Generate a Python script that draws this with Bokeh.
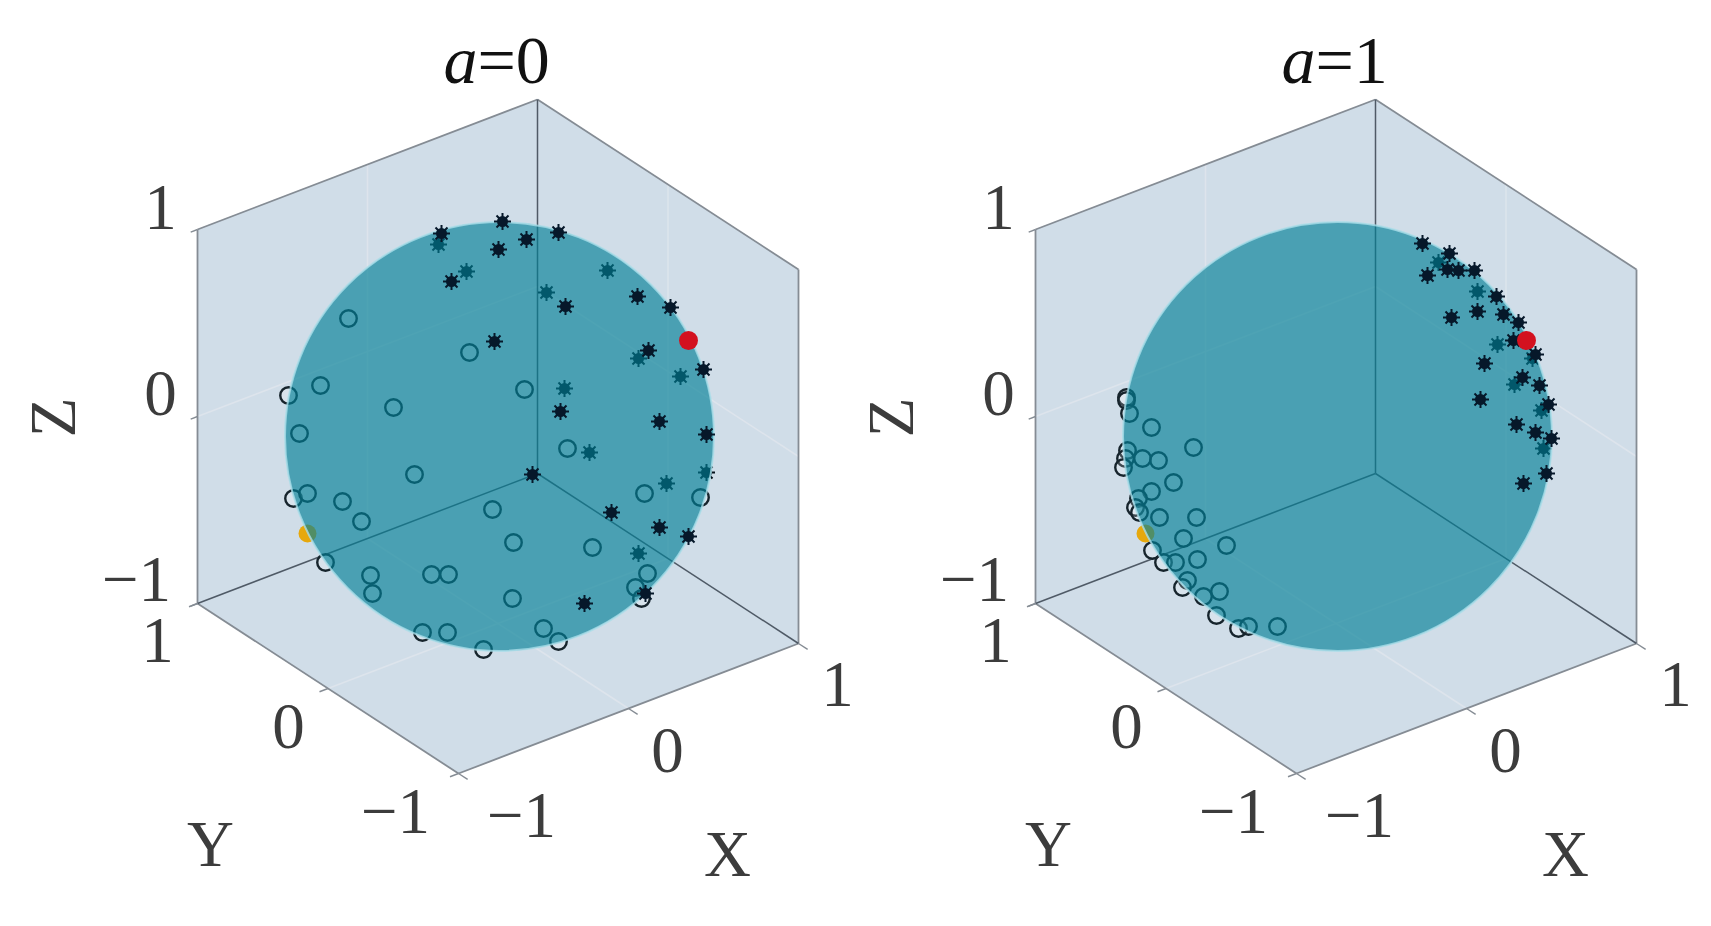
import math
from bokeh.plotting import figure
from bokeh.embed import file_html
from bokeh.resources import INLINE
from bokeh.core.properties import value

# Chart values. The sphere has radius 214.5 in these
# view-plane units and sits at the origin of each panel.
panel_titles = ["0", "1"]
tick_values = [-1, 0, 1]
z_tick_labels = ["\u22121", "0", "1"]
y_tick_labels = ["\u22121", "0", "1"]
x_tick_labels = ["\u22121", "0", "1"]

a0_circle_u = [-151, -179, -211, -106, -200, -30, 25, 68, -85, -206, -192, -157, -138, -174, -129, -127,
               -68, -77, -7, 14, 93, 145, 201, -51, 13, 148, 136, 142, 44, 59, -16, -52]
a0_circle_v = [118, 51, 41, 29, 3, 84, 47, -12, -38, -62, -57, -65, -85, -126, -139, -157,
               -138, -196, -73, -106, -111, -57, -61, -138, -162, -137, -151, -162, -192, -205, -213, -196]
a0_front_u = [-58, 3, 27, 59, -1, -48, 138, 171, 66, -5, 149, 204, 61, 160, 207, 33, 112, 160, 189, 146, 85]
a0_front_v = [203, 215, 197, 204, 187, 155, 140, 129, 130, 95, 86, 67, 25, 15, 2, -38, -76, -91, -100, -157, -167]
a0_back_u = [-61, -33, 108, 47, 139, 181, 65, 90, 207, 167, 139]
a0_back_v = [192, 165, 166, 144, 78, 60, 48, -16, -36, -47, -117]

a1_circle_u = [-211, -211, -208, -186, -144, -210, -212, -214, -195, -179, -164, -186, -199, -202, -198, -178,
               -141, -154, -111, -185, -174, -162, -140, -150, -155, -134, -118, -121, -99, -89, -60]
a1_circle_v = [39, 36, 23, 9, -11, -14, -22, -31, -22, -24, -46, -55, -62, -71, -76, -81,
               -81, -102, -109, -114, -126, -126, -123, -144, -151, -160, -155, -179, -192, -190, -190]
a1_front_u = [85, 112, 110, 121, 137, 90, 159, 140, 166, 114, 181, 176, 198, 147, 185, 202, 211, 143, 179, 198, 214, 209, 186]
a1_front_v = [193, 183, 167, 166, 166, 161, 140, 125, 122, 119, 114, 96, 82, 73, 59, 51, 32, 37, 12, 4, -2, -37, -47]
a1_back_u = [101, 140, 160, 177, 195, 204, 206]
a1_back_v = [174, 145, 92, 52, 78, 26, -12]

red_u, red_v = [189], [96]
yellow_u, yellow_v = [-192], [-97]

# Projection of the 3D box onto the view plane
ORIGIN = (-1.5, 0.0)
X_AXIS = (170.0, 65.0)
Y_AXIS = (-130.5, 85.0)
Z_AXIS = (0.0, 187.0)
PANEL_STEP = 838

PANE = "#d0dde8"
GRID = "#dde4ec"
EDGE = "#858c94"
INNER = "#4f5a66"
SPHERE = "#027f96"
SERIF = value("Liberation Serif")
TEXT = "#3c3c3c"
BASELINE_SHIFT = 0.37

p = figure(width=1703, height=910, x_range=(-499, 1204), y_range=(-474, 436),
           output_backend="svg", toolbar_location=None, min_border=0, outline_line_color=None,
           background_fill_color="white", border_fill_color="white")
p.axis.visible = False
p.grid.visible = False


def proj(x, y, z):
    return (ORIGIN[0] + x * X_AXIS[0] + y * Y_AXIS[0] + z * Z_AXIS[0],
            ORIGIN[1] + x * X_AXIS[1] + y * Y_AXIS[1] + z * Z_AXIS[1])


def shifted(us, dx):
    return [u + dx for u in us]


def seg(dx, a, b, color, width):
    pa, pb = proj(*a), proj(*b)
    p.line([pa[0] + dx, pb[0] + dx], [pa[1], pb[1]], line_color=color, line_width=width)


def wall(dx, corners):
    pts = [proj(*c) for c in corners]
    p.patch([q[0] + dx for q in pts], [q[1] for q in pts], fill_color=PANE, line_color=PANE, line_width=0.5)


def label(s, u, v, size=65, color=TEXT, align="center", style="normal"):
    p.text([u], [v + BASELINE_SHIFT * size], text=[s], text_font=SERIF, text_font_size=f"{size}px",
           text_color=color, text_align=align, text_baseline="alphabetic", text_font_style=style)


def stars(us, vs, color):
    p.scatter(us, vs, marker="asterisk", size=17, line_color=color, line_width=2)
    p.scatter(us, vs, marker="circle", size=11, fill_color=color, line_color=color, line_width=0)


def panel(dx, title, circle_u, circle_v, front_u, front_v, back_u, back_v):
    # panes
    wall(dx, [(-1, 1, -1), (1, 1, -1), (1, 1, 1), (-1, 1, 1)])
    wall(dx, [(1, 1, -1), (1, -1, -1), (1, -1, 1), (1, 1, 1)])
    wall(dx, [(-1, -1, -1), (1, -1, -1), (1, 1, -1), (-1, 1, -1)])

    # faint gridlines at 0
    seg(dx, (-1, 1, 0), (1, 1, 0), GRID, 1.5)
    seg(dx, (0, 1, -1), (0, 1, 1), GRID, 1.5)
    seg(dx, (1, 1, 0), (1, -1, 0), GRID, 1.5)
    seg(dx, (1, 0, -1), (1, 0, 1), GRID, 1.5)
    seg(dx, (0, 1, -1), (0, -1, -1), GRID, 1.5)
    seg(dx, (-1, 0, -1), (1, 0, -1), GRID, 1.5)

    # box edges
    seg(dx, (-1, 1, -1), (-1, 1, 1), EDGE, 1.8)
    seg(dx, (-1, 1, 1), (1, 1, 1), EDGE, 1.8)
    seg(dx, (1, 1, 1), (1, -1, 1), EDGE, 1.8)
    seg(dx, (1, -1, 1), (1, -1, -1), EDGE, 1.8)
    seg(dx, (-1, 1, -1), (-1, -1, -1), EDGE, 1.8)
    seg(dx, (-1, -1, -1), (1, -1, -1), EDGE, 1.8)
    seg(dx, (1, 1, 1), (1, 1, -1), INNER, 1.5)
    seg(dx, (-1, 1, -1), (1, 1, -1), INNER, 1.5)
    seg(dx, (1, -1, -1), (1, 1, -1), INNER, 1.5)

    # tick marks
    for t in tick_values:
        seg(dx, (-1, 1, t), (-1.04, 1, t), EDGE, 1.4)
        seg(dx, (-1, t, -1), (-1.05, t, -1), EDGE, 1.4)
        seg(dx, (t, -1, -1), (t, -1.07, -1), EDGE, 1.4)

    # points behind the translucent sphere
    p.scatter(shifted(circle_u, dx), circle_v, marker="circle", size=16.5, fill_color="white", fill_alpha=0.18,
              line_color="#16242c", line_width=2.4)
    stars(shifted(back_u, dx), back_v, "#03101a")
    p.scatter(shifted(yellow_u, dx), yellow_v, marker="circle", size=18, fill_color="#e6a80c", line_color=None)

    p.circle([dx], [0], radius=214.5, fill_color=SPHERE, fill_alpha=0.65,
             line_color="#a9dde8", line_width=2, line_alpha=0.8)

    # points in front of the sphere
    stars(shifted(front_u, dx), front_v, "#06182a")
    p.scatter(shifted(red_u, dx), red_v, marker="circle", size=19, fill_color="#d3111f", line_color=None)

    # tick labels
    for lab, pos in zip(z_tick_labels, [(-363, -167), (-339, 19), (-339, 205)]):
        label(lab, pos[0] + dx, pos[1])
    for lab, pos in zip(y_tick_labels, [(-104, -399), (-211, -314), (-342, -228)]):
        label(lab, pos[0] + dx, pos[1])
    for lab, pos in zip(x_tick_labels, [(22, -403), (168, -338), (338, -272)]):
        label(lab, pos[0] + dx, pos[1])

    # axis names
    label("X", 228 + dx, -442)
    label("Y", -289 + dx, -432)
    p.text([-447 + dx], [19], text=["Z"], text_font=SERIF, text_font_size="65px", text_color=TEXT,
           text_align="center", text_baseline="middle", angle=math.pi / 2)

    # panel title
    label("a", -22 + dx, 351, size=68, color="#111111", align="right", style="italic")
    label("=" + title, -22 + dx, 351, size=68, color="#111111", align="left")


panel(0, panel_titles[0], a0_circle_u, a0_circle_v, a0_front_u, a0_front_v, a0_back_u, a0_back_v)
panel(PANEL_STEP, panel_titles[1], a1_circle_u, a1_circle_v, a1_front_u, a1_front_v, a1_back_u, a1_back_v)

open("out.html", "w").write(file_html(p, INLINE))
